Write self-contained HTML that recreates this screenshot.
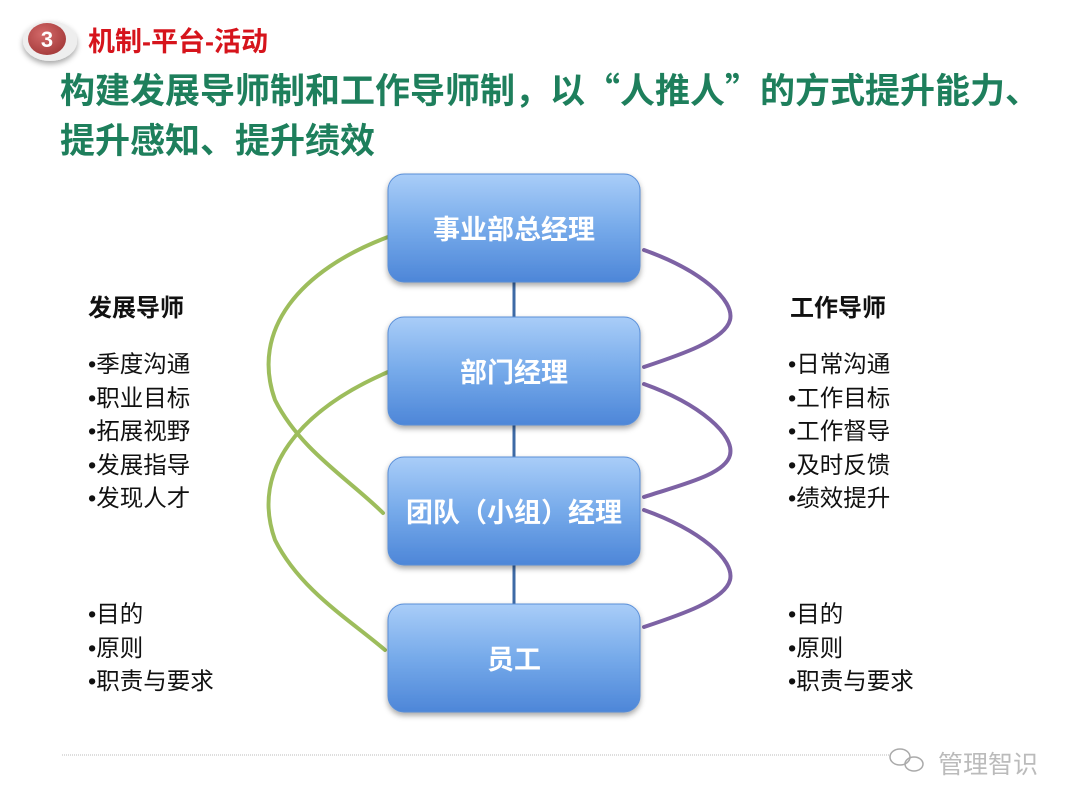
<!DOCTYPE html>
<html><head><meta charset="utf-8"><style>
body{margin:0;width:1080px;height:810px;background:#fff;overflow:hidden;position:relative;font-family:"Liberation Sans","Noto Sans CJK SC",sans-serif}
.t{position:absolute;white-space:nowrap}
.list{position:absolute;font-size:23.5px;line-height:33.5px;color:#111}
</style></head><body>
<svg width="1080" height="810" style="position:absolute;left:0;top:0">
<defs>
<linearGradient id="g" x1="0" y1="0" x2="0" y2="1">
<stop offset="0" stop-color="#a9cdf8"/><stop offset="0.5" stop-color="#76aaea"/><stop offset="1" stop-color="#4d86d8"/>
</linearGradient>
<filter id="sh" x="-10%" y="-10%" width="130%" height="140%"><feDropShadow dx="0" dy="3" stdDeviation="3" flood-color="#000" flood-opacity="0.35"/></filter>
<radialGradient id="rc" cx="0.4" cy="0.35" r="0.7"><stop offset="0" stop-color="#d46a6a"/><stop offset="1" stop-color="#a43a3a"/></radialGradient>
</defs>
<ellipse cx="50" cy="41" rx="27" ry="20" fill="#eee" filter="url(#sh)"/>
<ellipse cx="47" cy="39" rx="19" ry="16" fill="url(#rc)"/>
<text x="47" y="47" font-size="22" font-weight="bold" fill="#fff" text-anchor="middle" font-family="Liberation Sans">3</text>
<line x1="514" y1="280" x2="514" y2="610" stroke="#3d6aa6" stroke-width="3"/>
<g fill="none" stroke-width="4" stroke-linecap="round">
<path d="M388,237 C300,270 250,330 275,400 C300,450 350,480 383,513" stroke="#9dbd5c"/>
<path d="M388,372 C300,410 250,470 275,540 C300,590 350,620 385,650" stroke="#9dbd5c"/>
<path d="M644,250 C700,270 735,300 730,320 C725,340 680,355 644,367" stroke="#7d62a4"/>
<path d="M644,384 C700,404 735,435 730,455 C725,475 680,485 644,497" stroke="#7d62a4"/>
<path d="M644,510 C700,530 735,560 730,580 C725,600 680,615 644,627" stroke="#7d62a4"/>
</g>
<g filter="url(#sh)" stroke="#5a8fd8" stroke-width="1">
<rect x="388" y="174" width="252" height="108" rx="16" fill="url(#g)"/>
<rect x="388" y="317" width="252" height="108" rx="16" fill="url(#g)"/>
<rect x="388" y="457" width="252" height="108" rx="16" fill="url(#g)"/>
<rect x="388" y="604" width="252" height="108" rx="16" fill="url(#g)"/>
</g>
<g font-size="27" font-weight="bold" fill="#fff" text-anchor="middle" font-family="Liberation Sans, Noto Sans CJK SC, sans-serif">
<text x="514" y="239">事业部总经理</text>
<text x="514" y="382">部门经理</text>
<text x="514" y="522">团队（小组）经理</text>
<text x="514" y="669">员工</text>
</g>
<line x1="62" y1="755" x2="890" y2="755" stroke="#bbb" stroke-width="1" stroke-dasharray="1,1"/>
<g fill="none" stroke="#aaa" stroke-width="1.5">
<ellipse cx="900" cy="757" rx="10" ry="8"/><ellipse cx="914" cy="764" rx="9" ry="7"/>
</g>
</svg>
<div class="t" style="left:88px;top:20px;font-size:27px;font-weight:bold;color:#d6141c">机制-平台-活动</div>
<div class="t" style="left:60px;top:64px;font-size:35px;font-weight:bold;color:#1e7f5c;line-height:50px;font-family:'Noto Sans CJK SC',sans-serif">构建发展导师制和工作导师制，以“人推人”的方式提升能力、<br>提升感知、提升绩效</div>
<div class="t" style="left:88px;top:288px;font-size:24px;font-weight:bold;color:#111">发展导师</div>
<div class="list" style="left:88px;top:348px">•季度沟通<br>•职业目标<br>•拓展视野<br>•发展指导<br>•发现人才</div>
<div class="list" style="left:88px;top:598px">•目的<br>•原则<br>•职责与要求</div>
<div class="t" style="left:790px;top:288px;font-size:24px;font-weight:bold;color:#111">工作导师</div>
<div class="list" style="left:788px;top:348px">•日常沟通<br>•工作目标<br>•工作督导<br>•及时反馈<br>•绩效提升</div>
<div class="list" style="left:788px;top:598px">•目的<br>•原则<br>•职责与要求</div>
<div class="t" style="left:938px;top:745px;font-size:25px;color:#bbb">管理智识</div>
</body></html>
